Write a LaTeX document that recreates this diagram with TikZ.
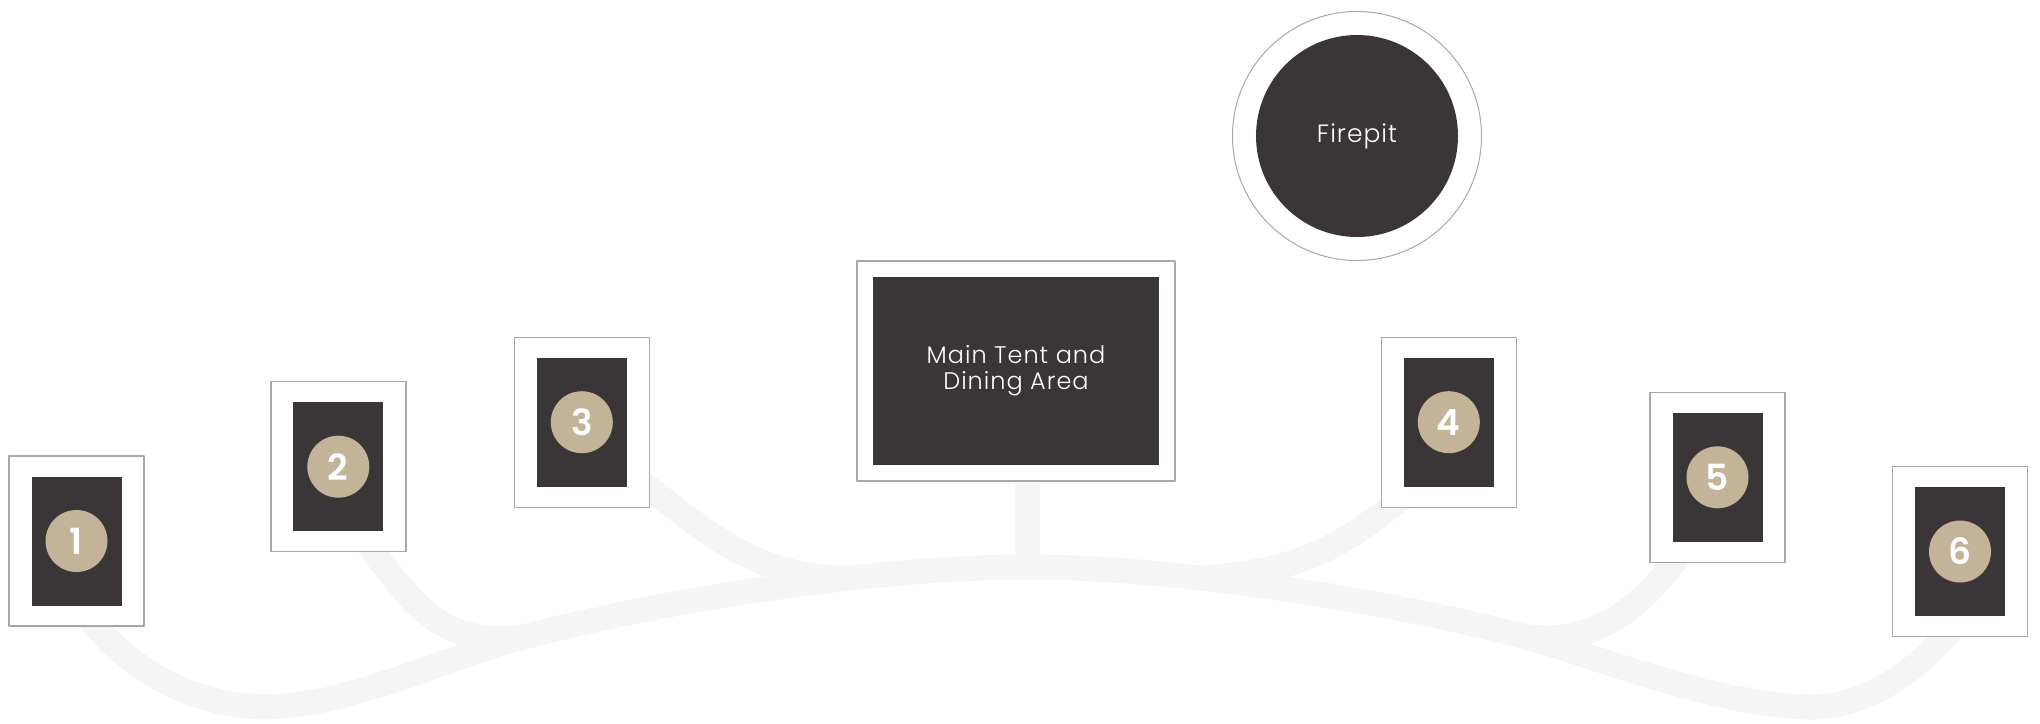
\documentclass[tikz,border=0pt]{standalone}
\usepackage{fontspec}
\setmainfont{Poppins}
\newfontfamily\thinfont{Poppins Light}[LetterSpace=4]
\newfontfamily\numfont{Poppins SemiBold}
\definecolor{cabin}{HTML}{3A3637}
\definecolor{sand}{HTML}{C3B399}
\definecolor{trailgray}{HTML}{F5F5F5}
\definecolor{rim}{HTML}{A8A8A8}

\begin{document}
\begin{tikzpicture}[x=0.5pt, y=-0.5pt, line join=round,
    trail/.style={draw=trailgray, line width=12.5pt},
    rimbox/.style={draw=rim, line width=0.7pt, fill=white, inner sep=0pt, outer sep=0pt},
    lodge/.style={rimbox, minimum width=67.5pt, minimum height=85pt},
    lodgein/.style={fill=cabin, inner sep=0pt, minimum width=45pt, minimum height=64.5pt},
    badge/.style={circle, fill=sand, text=white, inner sep=0pt, minimum size=31pt,
      font=\numfont\fontsize{18}{18}\selectfont},
    signtext/.style={text=white, align=center, inner sep=0pt,
      font=\thinfont\fontsize{12}{13}\selectfont}]
  \useasboundingbox (0,0) rectangle (2040,723);

  \coordinate (t1) at (75,600);
  \coordinate (v1) at (267,707);
  \coordinate (j2) at (490,647);
  \coordinate (mid) at (1027,567);
  \coordinate (j5) at (1560,647);
  \coordinate (v2) at (1807,707);
  \coordinate (t6) at (1975,600);

  \coordinate (t2) at (365,540);
  \coordinate (k2) at (527,636);
  \coordinate (t3) at (625,470);
  \coordinate (k3) at (854,578);
  \coordinate (t0) at (1027,470);
  \coordinate (t4) at (1418,485);
  \coordinate (k4) at (1198,578);
  \coordinate (t5) at (1690,540);
  \coordinate (k5) at (1523,636);

  \draw[trail] (t1) .. controls (110,650) and (170,705) .. (v1)
    .. controls (340,705) and (420,670) .. (j2)
    .. controls (600,612) and (850,567) .. (mid)
    .. controls (1200,567) and (1450,612) .. (j5)
    .. controls (1630,670) and (1730,705) .. (v2)
    .. controls (1880,709) and (1940,650) .. (t6);
  \draw[trail] (t2) .. controls (410,600) and (440,650) .. (k2);
  \draw[trail] (t3) .. controls (700,525) and (750,580) .. (k3);
  \draw[trail] (t0) -- (mid);
  \draw[trail] (t4) .. controls (1350,540) and (1310,572) .. (k4);
  \draw[trail] (t5) .. controls (1650,600) and (1600,648) .. (k5);

  \foreach \i/\x/\y in {1/76.5/541, 2/338.3/466.7, 3/581.8/422.2,
                        4/1448.8/422.2, 5/1717.5/477.3, 6/1960/551.5} {
    \node[lodge] (c\i) at (\x,\y) {};
    \node[lodgein] at (c\i) {};
    \node[badge] (b\i) at (c\i) {\i};
  }

  \node[rimbox, minimum width=159pt, minimum height=110pt] (tent) at (1016,371) {};
  \node[fill=cabin, minimum width=142.7pt, minimum height=93.8pt, signtext] at (tent)
    {Main Tent and\\Dining Area};

  \node[rimbox, circle, line width=0.5pt, minimum size=124.5pt] (pit) at (1357,136) {};
  \node[circle, fill=cabin, minimum size=101pt, signtext,
    font=\thinfont\fontsize{12.5}{13}\selectfont] at (pit) {Firepit};
\end{tikzpicture}
\end{document}
